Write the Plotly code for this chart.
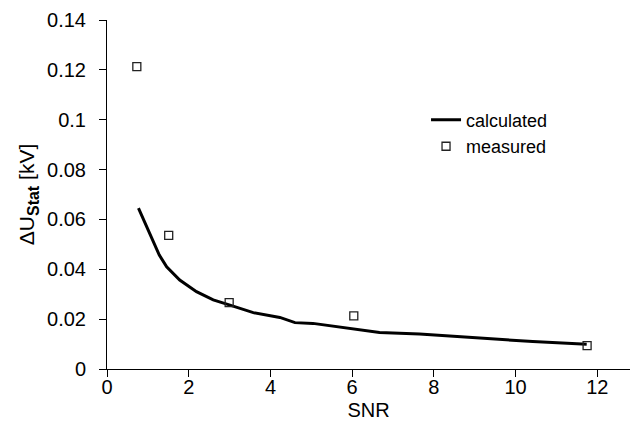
import plotly.graph_objects as go

# calculated curve
calc_snr = [0.77, 1.09, 1.28, 1.46, 1.78, 2.19, 2.6, 2.99, 3.58, 4.23, 4.6, 5.04, 5.94, 6.67, 7.65, 8.79, 10.42, 11.74]
calc_du = [0.0645, 0.0524, 0.0457, 0.041, 0.0357, 0.031, 0.0277, 0.0257, 0.0226, 0.0207, 0.0186, 0.0183, 0.0162, 0.0146, 0.014, 0.0127, 0.011, 0.0099]

# measured points
meas_snr = [0.73, 1.51, 2.99, 6.04, 11.75]
meas_du = [0.1213, 0.0536, 0.0266, 0.0213, 0.0094]

x_ticks = [0, 2, 4, 6, 8, 10, 12]
y_ticks = [0, 0.02, 0.04, 0.06, 0.08, 0.1, 0.12, 0.14]
y_tick_text = ["0", "0.02", "0.04", "0.06", "0.08", "0.1", "0.12", "0.14"]

FONT = "Liberation Sans, Arial, sans-serif"

fig = go.Figure()
fig.add_trace(go.Scatter(x=calc_snr, y=calc_du, mode="lines", name="calculated",
                         line=dict(color="black", width=3)))
fig.add_trace(go.Scatter(x=meas_snr, y=meas_du, mode="markers", name="measured",
                         marker=dict(symbol="square-open", size=8, color="#222222",
                                     line=dict(width=1.3, color="#222222"))))
# helper trace carrying the tick-mark-only overlay axis
fig.add_trace(go.Scatter(x=[], y=[], xaxis="x2", yaxis="y", showlegend=False, hoverinfo="skip"))

fig.update_layout(
    width=630, height=431,
    margin=dict(l=107, r=0, t=20, b=62),
    plot_bgcolor="white", paper_bgcolor="white",
    font=dict(family=FONT, size=20, color="black"),
    showlegend=True,
    legend=dict(x=0.61, y=0.766, xanchor="left", yanchor="top",
                bgcolor="rgba(0,0,0,0)", font=dict(size=18),
                tracegroupgap=0, itemwidth=30),
    xaxis=dict(range=[0, 12.8], tickvals=x_ticks, showgrid=False, zeroline=False,
               showline=True, linecolor="black", linewidth=1,
               ticks="",
               title=dict(text="SNR", standoff=5, font=dict(size=20))),
    xaxis2=dict(range=[0, 12.8], matches="x", overlaying="x", anchor="y", side="bottom",
                tickvals=x_ticks, showticklabels=False, showgrid=False, zeroline=False,
                showline=False, ticks="outside", ticklen=7, tickcolor="black"),
    yaxis=dict(range=[0, 0.14], tickvals=y_ticks, ticktext=y_tick_text,
               showgrid=False, zeroline=False,
               showline=True, linecolor="black", linewidth=1,
               ticks="outside", ticklen=7, tickcolor="black",
               ticklabelstandoff=9,
               title=dict(text="ΔU<sub><span style='font-size:16px;font-weight:bold'>Stat</span></sub> [kV]",
                          standoff=6, font=dict(size=21))),
)

fig.write_html("out.html")
